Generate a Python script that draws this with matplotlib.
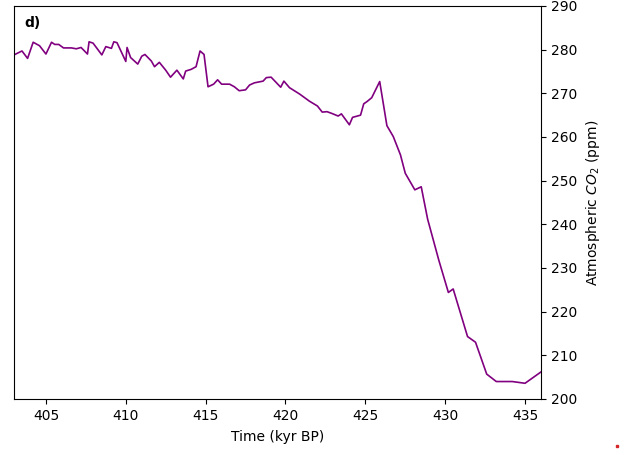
import matplotlib
matplotlib.use("Agg")
import matplotlib.pyplot as plt
from matplotlib.lines import Line2D

# ── Data ─────────────────────────────────────────────────────────────────────
time_kyr = [
    403.0, 403.5, 403.85, 404.2, 404.6, 405.0, 405.35, 405.55, 405.8, 406.1,
    406.6, 406.9, 407.2, 407.6, 407.7, 407.95, 408.5, 408.75, 409.1, 409.25,
    409.45, 410.0, 410.08, 410.3, 410.75, 411.0, 411.2, 411.6, 411.8, 412.1,
    412.5, 412.8, 413.2, 413.6, 413.75, 414.1, 414.4, 414.65, 414.9, 415.15,
    415.5, 415.75, 416.0, 416.5, 416.8, 417.1, 417.5, 417.75, 418.05, 418.6,
    418.8, 419.1, 419.7, 419.9, 420.25, 420.9, 421.5, 422.0, 422.3, 422.6,
    422.9, 423.3, 423.5, 424.0, 424.2, 424.7, 424.9, 425.1, 425.4, 425.9,
    426.35, 426.75, 427.2, 427.5, 428.1, 428.5, 428.9, 429.6, 430.2, 430.5,
    431.4, 431.9, 432.6, 433.2, 434.2, 435.0, 436.0,
]
co2_ppm = [
    278.8, 279.7, 278.0, 281.7, 280.9, 279.0, 281.7, 281.2, 281.2, 280.4,
    280.4, 280.2, 280.5, 279.0, 281.8, 281.5, 278.8, 280.7, 280.3, 281.8,
    281.6, 277.3, 280.5, 278.2, 276.7, 278.5, 278.9, 277.4, 276.1, 277.1,
    275.3, 273.7, 275.3, 273.3, 275.1, 275.5, 276.1, 279.7, 278.9, 271.5,
    272.1, 273.1, 272.1, 272.1, 271.5, 270.6, 270.8, 271.9, 272.4, 272.8,
    273.6, 273.7, 271.4, 272.8, 271.3, 269.8, 268.2, 267.1, 265.7, 265.8,
    265.4, 264.8, 265.3, 262.8, 264.5, 265.0, 267.6, 268.1, 269.0, 272.7,
    262.6, 260.1, 255.9, 251.7, 247.9, 248.6, 241.2, 231.8, 224.4, 225.2,
    214.3, 213.0, 205.7, 204.0, 204.0, 203.6, 206.2,
]

# ── Plot ──────────────────────────────────────────────────────────────────────
fig = plt.figure(figsize=(6.26, 4.55), dpi=100)
ax = fig.add_axes([14 / 626, 1 - 399 / 455, 527 / 626, 393 / 455])

ax.plot(time_kyr, co2_ppm, color="purple", linewidth=1.2)

ax.set_xlim(403, 436)
ax.set_ylim(200, 290)
ax.set_xticks(range(405, 436, 5))
ax.set_yticks(range(200, 291, 10))

ax.yaxis.tick_right()
ax.yaxis.set_label_position("right")
ax.set_xlabel("Time (kyr BP)", labelpad=5)
ax.set_ylabel("Atmospheric $CO_2$ (ppm)", labelpad=5)

ax.text(0.02, 0.975, "d)", transform=ax.transAxes, fontweight="bold",
        va="top", ha="left")

# stray red speck in the bottom-right corner of the reference
fig.add_artist(Line2D([617 / 626], [1 - 446 / 455], marker="s", markersize=1.5,
                      color="#d62728", linestyle="none"))

plt.savefig("out.png", dpi=100)
plt.close()
